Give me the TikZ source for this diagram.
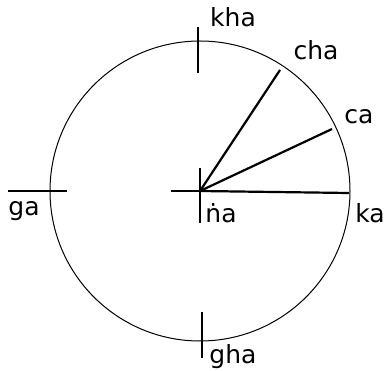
\documentclass[tikz,border=0pt]{standalone}
\usepackage{fontspec}
\setmainfont{DejaVu Sans}
\begin{document}
\begin{tikzpicture}[x=1pt,y=-1pt,
  tick/.style={line width=2.2pt},
  spoke/.style={line width=2.2pt},
  lbl/.style={font=\fontsize{25}{28}\selectfont, inner sep=0pt}]
  \useasboundingbox (0,0) rectangle (385,371);

  % Circle
  \coordinate (o) at (200,191);
  \draw[line width=1pt] (o) circle [radius=150];

  % Ticks on the circle
  \coordinate (kt1) at (198,27);  \coordinate (kt2) at (198,73);
  \coordinate (gt1) at (202,312); \coordinate (gt2) at (202,358);
  \coordinate (lt1) at (8,191);   \coordinate (lt2) at (67,191);
  \draw[tick] (kt1) -- (kt2);
  \draw[tick] (gt1) -- (gt2);
  \draw[tick] (lt1) -- (lt2);

  % Centre cross
  \coordinate (ch1) at (171,191); \coordinate (ch2) at (228,191);
  \coordinate (cv1) at (200,168); \coordinate (cv2) at (200,223);
  \draw[tick] (ch1) -- (ch2);
  \draw[tick] (cv1) -- (cv2);

  % Spokes
  \coordinate (ka) at (349,193);
  \coordinate (ca) at (332,129);
  \coordinate (cha) at (280,70);
  \draw[spoke] (o) -- (ka);
  \draw[spoke] (o) -- (ca);
  \draw[spoke] (o) -- (cha);

  % Labels
  \node[lbl] (lkha) at (233,17) {kha};
  \node[lbl] (lcha) at (316,50) {cha};
  \node[lbl] (lca) at (359,117) {ca};
  \node[lbl] (lka) at (370,213) {ka};
  \node[lbl] (lna) at (221,213) {ṅa};
  \node[lbl] (lga) at (24,211) {ga};
  \node[lbl, anchor=base] (lgha) at (233,363) {gha};
\end{tikzpicture}
\end{document}
